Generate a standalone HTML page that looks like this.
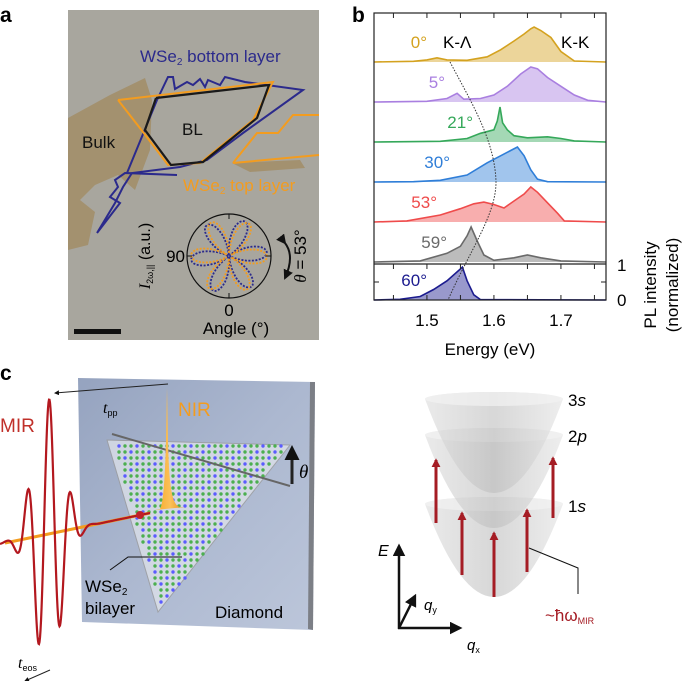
<!DOCTYPE html>
<html><head><meta charset="utf-8"><style>
html,body{margin:0;padding:0;background:#fff}
svg{display:block;font-family:"Liberation Sans",sans-serif}
</style></head><body>
<svg id="fig" width="685" height="681" viewBox="0 0 685 681" xmlns="http://www.w3.org/2000/svg">
<defs>
<linearGradient id="slab" x1="0" y1="0" x2="1" y2="1"><stop offset="0" stop-color="#95a3bf"/><stop offset="0.5" stop-color="#acb8d0"/><stop offset="1" stop-color="#bcc6da"/></linearGradient>
<linearGradient id="para" x1="0" y1="0" x2="1" y2="0"><stop offset="0" stop-color="#dcdcdc"/><stop offset="0.5" stop-color="#bdbdbd"/><stop offset="1" stop-color="#e2e2e2"/></linearGradient>
<linearGradient id="pulse" x1="0" y1="0" x2="1" y2="0"><stop offset="0" stop-color="#f6a623"/><stop offset="0.5" stop-color="#fbc15a"/><stop offset="1" stop-color="#e88a10"/></linearGradient>
<marker id="ah" viewBox="0 0 10 10" refX="8" refY="5" markerWidth="5" markerHeight="5" orient="auto"><path d="M0,0L10,5L0,10z" fill="#111"/></marker>
<marker id="ahr" viewBox="0 0 10 10" refX="8" refY="5" markerWidth="3" markerHeight="3" orient="auto"><path d="M0,0L10,5L0,10z" fill="#a51c24"/></marker>
</defs>

<!-- Panel a -->
<g>
<text x="0" y="22" font-size="21" font-weight="bold">a</text>
<rect x="68" y="10" width="251" height="330" fill="#a8a69e"/>
<polygon points="68,118 110,95 145,78 152,100 150,150 135,190 118,175 95,185 80,200 95,212 88,245 68,250" fill="#a3916f"/>
<polygon points="232,163 300,160 305,168 250,172" fill="#a3916f"/>
<polyline points="97,233 120,203 110,197 118,187 115,180 125,173 177,175 127,173 157,100 168,77 173,77 175,89 187,82 193,85 200,79 205,87 208,80 220,85 225,77 245,82 303,90 243,133 207,160 180,167 132,173 123,187 115,203 97,233" fill="none" stroke="#2b2a8c" stroke-width="2"/>
<polyline points="118,100 273,82 253,120 200,163 168,165 143,132 118,100" fill="none" stroke="#f39c1f" stroke-width="2"/>
<polyline points="233,163 257,133 278,133 293,115 319,115" fill="none" stroke="#f39c1f" stroke-width="2"/>
<polyline points="319,155 233,163" fill="none" stroke="#f39c1f" stroke-width="2"/>
<polyline points="156,98 269,85 257,118 203,162 171,165 145,130 156,98" fill="none" stroke="#1a1a1a" stroke-width="2.2"/>
<text x="140" y="62" font-size="17" fill="#2b2a8c">WSe<tspan font-size="10" dy="3">2</tspan><tspan dy="-3"> bottom layer</tspan></text>
<text x="182" y="135" font-size="17" fill="#111">BL</text>
<text x="82" y="148" font-size="17" fill="#111">Bulk</text>
<text x="183" y="191" font-size="17" fill="#f39c1f">WSe<tspan font-size="10" dy="3">2</tspan><tspan dy="-3"> top layer</tspan></text>
<g>
<circle cx="229" cy="256" r="42" fill="none" stroke="#111" stroke-width="1.2"/>
<g id="roses"></g>
<line x1="187" y1="256" x2="192" y2="256" stroke="#111"/><line x1="229" y1="298" x2="229" y2="293" stroke="#111"/>
<line x1="229" y1="214" x2="229" y2="219" stroke="#111"/><line x1="271" y1="256" x2="266" y2="256" stroke="#111"/>
<text x="185" y="262" font-size="17" text-anchor="end">90</text>
<text x="229" y="316" font-size="17" text-anchor="middle">0</text>
<text x="236" y="334" font-size="17" text-anchor="middle">Angle (°)</text>
<text transform="translate(150,256) rotate(-90)" font-size="16" text-anchor="middle"><tspan font-style="italic" font-family="Liberation Serif">I</tspan><tspan font-size="9" dy="3">2ω,||</tspan><tspan dy="-3"> (a.u.)</tspan></text>
<path d="M285,243 Q295,256 285,278" fill="none" stroke="#111" stroke-width="2" marker-start="url(#ah)" marker-end="url(#ah)"/>
<text transform="translate(306,256) rotate(-90)" font-size="17" text-anchor="middle"><tspan font-style="italic" font-family="Liberation Serif">θ</tspan> = 53°</text>
</g>
<rect x="74" y="329" width="47" height="5" fill="#111"/>
</g>

<!-- Panel b -->
<g>
<text x="352" y="22" font-size="21" font-weight="bold">b</text>
<g id="spectra"></g>
<rect x="374" y="13" width="232" height="287" fill="none" stroke="#222" stroke-width="1.2"/>
<line x1="374" y1="264" x2="606" y2="264" stroke="#222" stroke-width="1.2"/>
<g id="ticks"></g>
<path d="M450,62 C470,100 495,140 496,182 C496,215 470,250 448,300" fill="none" stroke="#333" stroke-width="1" stroke-dasharray="1.5,1.5"/>
<text x="443" y="48" font-size="17">K-Λ</text>
<text x="561" y="48" font-size="17">K-K</text>
<text x="617" y="271" font-size="17">1</text>
<text x="617" y="306" font-size="17">0</text>
<text transform="translate(656,285) rotate(-90)" font-size="17" text-anchor="middle">PL intensity</text>
<text transform="translate(678,285) rotate(-90)" font-size="17" text-anchor="middle">(normalized)</text>
<text x="490" y="355" font-size="17" text-anchor="middle">Energy (eV)</text>
</g>

<!-- Panel c left -->
<g>
<text x="0" y="380" font-size="21" font-weight="bold">c</text>
<polygon points="78,378 315,382 313,630 82,622" fill="url(#slab)"/>
<polygon points="310,382 315,382 313,630 308,629" fill="#7c7f86"/>
<polygon points="107,440 290,445 158,612" fill="#dfe3ea" opacity="0.75" stroke="#9a9a9a"/>
<g id="dots"></g>
<line x1="112" y1="434" x2="290" y2="486" stroke="#666" stroke-width="2"/>
<path d="M292,484 L292,448" stroke="#222" stroke-width="3" marker-end="url(#ah)"/>
<text x="299" y="478" font-size="19" font-style="italic" font-family="Liberation Serif">θ</text>
<line x1="5" y1="543" x2="150" y2="513" stroke="#f39c1f" stroke-width="3"/>
<path id="mir" fill="none" stroke="#b3181f" stroke-width="2.2"/>
<circle cx="140" cy="515" r="4" fill="#c0202a"/>
<path d="M160,509 C163,505 165,480 166,440 L167,388 L168,440 C169,480 171,505 180,507 L185,507 L155,510 Z" fill="url(#pulse)"/>
<line x1="168" y1="384" x2="55" y2="393" stroke="#222" stroke-width="1" marker-end="url(#ah)"/>
<line x1="50" y1="670" x2="25" y2="681" stroke="#222" stroke-width="1" marker-end="url(#ah)"/>
<text x="0" y="432" font-size="19" fill="#c0302a">MIR</text>
<text x="178" y="416" font-size="19" fill="#f39c1f">NIR</text>
<text x="103" y="413" font-size="16" font-style="italic" font-family="Liberation Serif">t<tspan font-size="9" font-style="normal" font-family="Liberation Sans" dy="3">pp</tspan></text>
<text x="18" y="668" font-size="16" font-style="italic" font-family="Liberation Serif">t<tspan font-size="9" font-style="normal" font-family="Liberation Sans" dy="3">eos</tspan></text>
<polyline points="110,570 128,557 182,557" fill="none" stroke="#111"/>
<text x="85" y="592" font-size="17">WSe<tspan font-size="10" dy="3">2</tspan></text>
<text x="85" y="614" font-size="17">bilayer</text>
<text x="215" y="618" font-size="17">Diamond</text>
</g>

<!-- Panel c right -->
<g>
<g id="paras"></g>
<g id="arrows"></g>
<text x="568" y="406" font-size="17">3<tspan font-style="italic">s</tspan></text>
<text x="568" y="442" font-size="17">2<tspan font-style="italic">p</tspan></text>
<text x="568" y="512" font-size="17">1<tspan font-style="italic">s</tspan></text>
<line x1="399" y1="629" x2="399" y2="546" stroke="#111" stroke-width="2.5" marker-end="url(#ah)"/>
<line x1="398" y1="628" x2="460" y2="628" stroke="#111" stroke-width="2.5" marker-end="url(#ah)"/>
<line x1="399" y1="628" x2="415" y2="596" stroke="#111" stroke-width="2.5" marker-end="url(#ah)"/>
<text x="378" y="556" font-size="16" font-style="italic">E</text>
<text x="424" y="610" font-size="15" font-style="italic">q<tspan font-size="9" font-style="normal" dy="3">y</tspan></text>
<text x="467" y="650" font-size="15" font-style="italic">q<tspan font-size="9" font-style="normal" dy="3">x</tspan></text>
<polyline points="529,548 578,568 578,594" fill="none" stroke="#111"/>
<text x="545" y="621" font-size="17" fill="#a51c24">~ħω<tspan font-size="9" dy="3">MIR</tspan></text>
</g>
</svg>
<script>
// ---- Panel b data ----
const angleLabels = ["0°","5°","21°","30°","53°","59°","60°"];
const seriesColors = ["#d4a21f","#a97fe0","#35a85a","#2f7ed8","#ef4b4b","#6a6a6a","#1c1c8f"];
const e0 = [1.421,1.48,1.50,1.515,1.53,1.56,1.59,1.61,1.63,1.645,1.655,1.66,1.67,1.685,1.70,1.72,1.767];
const i0 = [0,0.02,0.06,0.12,0.06,0.05,0.15,0.35,0.6,0.8,0.95,1.0,0.9,0.7,0.3,0.03,0];
const e1 = [1.421,1.50,1.53,1.545,1.555,1.58,1.60,1.62,1.64,1.655,1.665,1.68,1.70,1.72,1.74,1.767];
const i1 = [0,0.02,0.1,0.25,0.08,0.1,0.2,0.45,0.8,1.0,0.95,0.7,0.45,0.2,0.05,0];
const e2 = [1.421,1.52,1.56,1.58,1.60,1.605,1.609,1.613,1.62,1.63,1.65,1.68,1.70,1.72,1.767];
const i2 = [0,0.02,0.1,0.25,0.35,0.6,1.0,0.55,0.35,0.18,0.12,0.15,0.1,0.03,0];
const e3 = [1.421,1.48,1.52,1.56,1.59,1.61,1.625,1.635,1.645,1.655,1.665,1.68,1.767];
const i3 = [0,0.01,0.05,0.2,0.55,0.75,0.9,1.0,0.75,0.35,0.08,0.01,0];
const e4 = [1.421,1.47,1.52,1.55,1.57,1.585,1.60,1.615,1.63,1.645,1.655,1.665,1.68,1.695,1.705,1.767];
const i4 = [0,0.03,0.2,0.38,0.52,0.57,0.5,0.4,0.6,0.8,1.0,0.85,0.55,0.25,0.03,0];
const e5 = [1.421,1.49,1.53,1.55,1.56,1.566,1.575,1.585,1.60,1.63,1.65,1.67,1.70,1.767];
const i5 = [0,0.03,0.25,0.45,0.75,1.0,0.6,0.2,0.05,0.12,0.2,0.12,0.03,0];
const e6 = [1.421,1.46,1.49,1.51,1.53,1.553,1.56,1.57,1.58,1.767];
const i6 = [0,0.02,0.1,0.3,0.55,0.94,0.55,0.15,0.01,0];
const energyTicks = [1.5,1.6,1.7];
const minorTicks = [1.45,1.5,1.55,1.6,1.65,1.7,1.75];

const NS="http://www.w3.org/2000/svg";
const xS = e => 374 + (e - 1.421) * 670;
const yS = (v, k) => (62 + k * 40 - (k === 6 ? 2 : 0)) - v * 35;
const baseY = k => yS(0, k);
const energies=[e0,e1,e2,e3,e4,e5,e6], intens=[i0,i1,i2,i3,i4,i5,i6];
const labelX=[427,445,473,450,437,447,427];
const sp=document.getElementById('spectra');
for(let k=0;k<7;k++){
  const pts=energies[k].map((e,j)=>xS(e).toFixed(1)+','+yS(intens[k][j],k).toFixed(1));
  const area=document.createElementNS(NS,'polygon');
  area.setAttribute('points',xS(1.421)+','+baseY(k)+' '+pts.join(' ')+' '+xS(1.767)+','+baseY(k));
  area.setAttribute('fill',seriesColors[k]);area.setAttribute('fill-opacity','0.45');
  
  
  sp.appendChild(area);
  const ln=document.createElementNS(NS,'polyline');
  ln.setAttribute('points',pts.join(' '));ln.setAttribute('fill','none');
  ln.setAttribute('stroke',seriesColors[k]);ln.setAttribute('stroke-width','1.6');
  
  
  sp.appendChild(ln);
  const t=document.createElementNS(NS,'text');
  t.setAttribute('x',labelX[k]);t.setAttribute('y',baseY(k)-14);
  t.setAttribute('text-anchor','end');t.setAttribute('font-size','17');t.setAttribute('fill',seriesColors[k]);
  t.textContent=angleLabels[k];
  
  
  sp.appendChild(t);
}
const tk=document.getElementById('ticks');
minorTicks.forEach(e=>{
  [[13,18],[300,295],[264,269]].forEach(([a,b])=>{
    const l=document.createElementNS(NS,'line');
    l.setAttribute('x1',xS(e));l.setAttribute('x2',xS(e));l.setAttribute('y1',a);l.setAttribute('y2',b);
    l.setAttribute('stroke','#222');
    
    
    tk.appendChild(l);
  });
});
energyTicks.forEach(e=>{
  const t=document.createElementNS(NS,'text');
  t.setAttribute('x',xS(e));t.setAttribute('y',326);t.setAttribute('text-anchor','middle');t.setAttribute('font-size','17');
  t.textContent=e.toFixed(1);
  
  
  tk.appendChild(t);
});
[264,282].forEach(y=>{[[374,379],[606,601]].forEach(([a,b])=>{
  const l=document.createElementNS(NS,'line');
  l.setAttribute('x1',a);l.setAttribute('x2',b);l.setAttribute('y1',y);l.setAttribute('y2',y);l.setAttribute('stroke','#222');
  
  
  tk.appendChild(l);
});});

// polar roses (decorative)
const ro=document.getElementById('roses');
[[0.1,'#2b2a8c'],[0.1+53*Math.PI/180,'#f39c1f']].forEach(([p0,c],i)=>{
  let d='';
  for(let a=0;a<=360;a+=3){const r=38*Math.abs(Math.cos(3*(a*Math.PI/180-p0)));
    const x=229+r*Math.cos(a*Math.PI/180),y=256-r*Math.sin(a*Math.PI/180);d+=(a?'L':'M')+x.toFixed(1)+','+y.toFixed(1);}
  const p=document.createElementNS(NS,'path');p.setAttribute('d',d);p.setAttribute('fill','none');
  p.setAttribute('stroke',c);p.setAttribute('stroke-width','1.8');p.setAttribute('stroke-dasharray','2,1.5');
  
  
  ro.appendChild(p);
});

// moire dots (decorative)
const dg=document.getElementById('dots');
for(let y=446;y<606;y+=6){for(let x=110;x<290;x+=6){
  const f=(y-440)/172; const xl=107+(158-107)*f, xr=290+(158-290)*f;
  if(x<xl+2||x>xr-2)continue;
  const c=document.createElementNS(NS,'circle');
  const g=((Math.floor(x/6)+Math.floor(y/6))%3)!==0;
  c.setAttribute('cx',x+(y%12?3:0));c.setAttribute('cy',y);c.setAttribute('r',1.7);
  c.setAttribute('fill',g?'#4caf50':'#5b5bff');
  
  
  dg.appendChild(c);
}}

// MIR waveform (decorative)
let md='';
for(let x=0;x<=150;x+=0.5){
  const base=543-(x-5)*30/145;
  const env=Math.exp(-Math.pow((x-48)/20,2));
  const y=base-135*env*Math.sin((x-48)*2*Math.PI/22+1.2);
  md+=(x?'L':'M')+x.toFixed(1)+','+y.toFixed(1);
}
document.getElementById('mir').setAttribute('d',md);

// paraboloids
const pg=document.getElementById('paras');
[[494,504,597,69],[494,435,528,69],[494,399,493,69]].forEach(([cx,ty,vy,rx],i)=>{
  const p=document.createElementNS(NS,'path');
  p.setAttribute('d',`M${cx-rx},${ty} Q${cx},${2*vy-ty} ${cx+rx},${ty} A${rx},7 0 0 0 ${cx-rx},${ty}Z`);
  p.setAttribute('fill','url(#para)');p.setAttribute('fill-opacity','0.6');
  
  
  pg.appendChild(p);
  const e=document.createElementNS(NS,'ellipse');
  e.setAttribute('cx',cx);e.setAttribute('cy',ty);e.setAttribute('rx',rx);e.setAttribute('ry',7);
  e.setAttribute('fill','#f2f2f2');e.setAttribute('fill-opacity','0.7');
  
  
  pg.appendChild(e);
});
const ag=document.getElementById('arrows');
[[436,523,460],[462,575,513],[494,597,533],[527,572,510],[553,518,458]].forEach(([x,y1,y2])=>{
  const l=document.createElementNS(NS,'line');
  l.setAttribute('x1',x);l.setAttribute('x2',x);l.setAttribute('y1',y1);l.setAttribute('y2',y2);
  l.setAttribute('stroke','#a51c24');l.setAttribute('stroke-width','3');l.setAttribute('marker-end','url(#ahr)');
  
  
  ag.appendChild(l);
});
</script>
</body></html>
